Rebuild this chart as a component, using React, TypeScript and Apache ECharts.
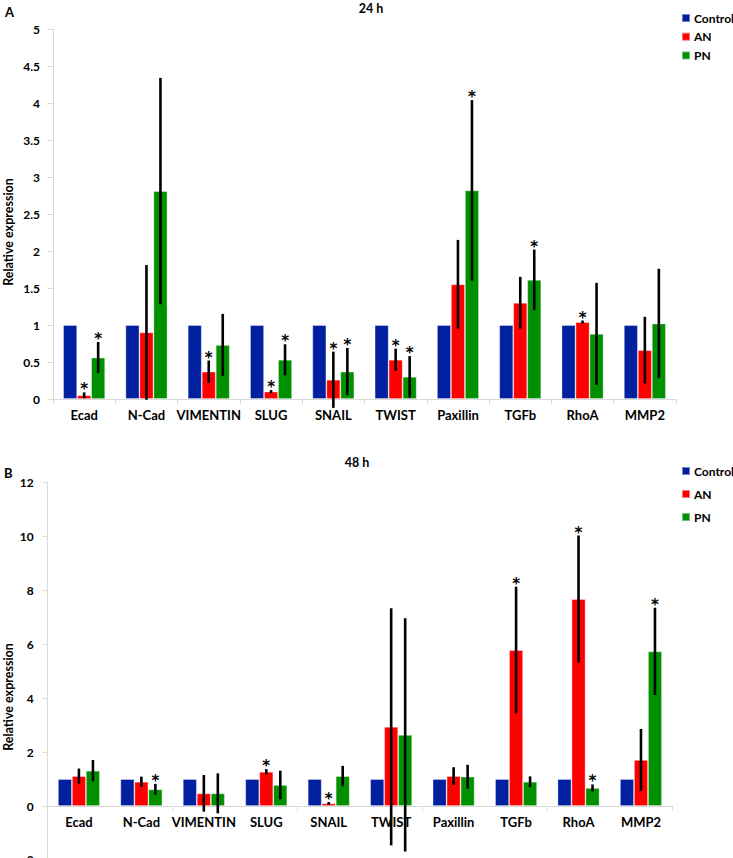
import React, { useEffect, useRef } from "react";
import * as echarts from "echarts";

const categories = ["Ecad", "N-Cad", "VIMENTIN", "SLUG", "SNAIL", "TWIST", "Paxillin", "TGFb", "RhoA", "MMP2"];
const seriesNames = ["Control", "AN", "PN"];
const colors = ["#0020a0", "#ff0000", "#009000"];

// 24 h
const control24 = [1, 1, 1, 1, 1, 1, 1, 1, 1, 1];
const an24 = [0.05, 0.9, 0.37, 0.1, 0.26, 0.53, 1.55, 1.3, 1.04, 0.66];
const anErr24 = [0.04, 0.91, 0.15, 0.02, 0.38, 0.15, 0.6, 0.35, 0.02, 0.45];
const anSig24 = [1, 0, 1, 1, 1, 1, 0, 0, 1, 0];
const pn24 = [0.56, 2.81, 0.73, 0.53, 0.37, 0.3, 2.82, 1.61, 0.88, 1.02];
const pnErr24 = [0.21, 1.53, 0.42, 0.21, 0.32, 0.28, 1.22, 0.41, 0.69, 0.74];
const pnSig24 = [1, 0, 0, 1, 1, 1, 1, 1, 0, 0];

// 48 h
const control48 = [1, 1, 1, 1, 1, 1, 1, 1, 1, 1];
const an48 = [1.11, 0.9, 0.47, 1.27, 0.1, 2.94, 1.11, 5.79, 7.68, 1.71];
const anErr48 = [0.28, 0.19, 0.68, 0.1, 0.05, 4.4, 0.33, 2.35, 2.36, 1.15];
const anSig48 = [0, 0, 0, 1, 1, 0, 0, 1, 1, 0];
const pn48 = [1.31, 0.62, 0.47, 0.78, 1.11, 2.64, 1.09, 0.9, 0.67, 5.74];
const pnErr48 = [0.4, 0.2, 0.74, 0.53, 0.38, 4.33, 0.44, 0.2, 0.13, 1.62];
const pnSig48 = [0, 1, 0, 0, 0, 0, 0, 0, 1, 1];

const BAR_W = 14;
const FONT = "Lato";
const AXIS_GREY = "#d9d9d9";

function barSeries(name: string, color: string, data: number[], axis: number) {
  return {
    type: "bar",
    name,
    data,
    xAxisIndex: axis,
    yAxisIndex: axis,
    barWidth: BAR_W,
    barGap: "0%",
    itemStyle: { color, borderColor: "rgba(255,255,255,0.45)", borderWidth: 0.8 },
    z: 2,
  };
}

function errSeries(vals: number[], errs: number[], sigs: number[], offsetIdx: number, axis: number) {
  return {
    type: "custom",
    xAxisIndex: axis,
    yAxisIndex: axis,
    clip: false,
    z: 5,
    silent: true,
    data: vals.map((v, i) => [i, v, errs[i], sigs[i]]),
    encode: { x: 0, y: 1 },
    renderItem: (params: any, api: any) => {
      const i = api.value(0);
      const v = api.value(1);
      const e = api.value(2);
      const s = api.value(3);
      const c = api.coord([i, v]);
      const x = c[0] + offsetIdx * BAR_W;
      const top = api.coord([i, v + e])[1];
      const bot = api.coord([i, v - e])[1];
      const children: any[] = [
        {
          type: "line",
          shape: { x1: x, y1: bot, x2: x, y2: top },
          style: { stroke: "#000", lineWidth: 2.6 },
        },
      ];
      if (s) {
        children.push({
          type: "text",
          x,
          y: top - 3,
          style: {
            text: "*",
            fill: "#000",
            fontSize: 15,
            fontWeight: "bold",
            fontFamily: "DejaVu Sans",
            align: "center",
            verticalAlign: "middle",
          },
        });
      }
      return { type: "group", children };
    },
  };
}

export default function App() {
  const ref = useRef<HTMLDivElement>(null);
  useEffect(() => {
    if (!ref.current) return;
    const chart = echarts.init(ref.current, null, { renderer: "svg" });
    const labelStyle = { color: "#000", fontFamily: FONT, fontWeight: "bold", fontSize: 12 };
    const xAxisCommon = {
      type: "category",
      data: categories,
      axisLine: { onZero: true, lineStyle: { color: AXIS_GREY, width: 1 } },
      axisTick: { show: true, length: 5, lineStyle: { color: AXIS_GREY } },
      axisLabel: { ...labelStyle, fontSize: 13, margin: 9, interval: 0 },
      splitLine: { show: false },
    };
    const yAxisCommon = {
      type: "value",
      axisLine: { show: true, lineStyle: { color: AXIS_GREY, width: 1 } },
      axisTick: { show: true, length: 5, lineStyle: { color: AXIS_GREY } },
      splitLine: { show: false },
    };
    const option: any = {
      animation: false,
      backgroundColor: "#fff",
      grid: [
        { left: 53, top: 29, width: 623, height: 370, outerBoundsMode: "none", containLabel: false },
        { left: 47.7, top: 482.7, width: 624.5, height: 377.2, outerBoundsMode: "none", containLabel: false },
        // overlay grid (0..12 part of panel B) that carries the category labels at the zero line
        { left: 47.7, top: 482.7, width: 624.5, height: 323.3, outerBoundsMode: "none", containLabel: false },
      ],
      xAxis: [
        { ...xAxisCommon, gridIndex: 0 },
        { ...xAxisCommon, gridIndex: 1, axisLabel: { show: false } },
        {
          ...xAxisCommon,
          gridIndex: 2,
          axisLine: { show: false },
          axisTick: { show: false },
        },
      ],
      yAxis: [
        { ...yAxisCommon, gridIndex: 0, min: 0, max: 5, interval: 0.5, axisLabel: { ...labelStyle, margin: 13 } },
        { ...yAxisCommon, gridIndex: 1, min: -2, max: 12, interval: 2, axisLabel: { ...labelStyle, margin: 14 } },
        { type: "value", gridIndex: 2, min: 0, max: 12, show: false },
      ],
      legend: [
        {
          orient: "vertical",
          left: 676,
          top: 6,
          itemWidth: 8,
          itemHeight: 8,
          itemGap: 4.7,
          icon: "rect",
          selectedMode: false,
          data: seriesNames,
          textStyle: { ...labelStyle, fontSize: 12, lineHeight: 14, padding: [0, 0, 0, -1] },
        },
        {
          orient: "vertical",
          left: 676,
          top: 459,
          itemWidth: 8,
          itemHeight: 8,
          itemGap: 9,
          icon: "rect",
          selectedMode: false,
          data: seriesNames,
          textStyle: { ...labelStyle, fontSize: 12, lineHeight: 14, padding: [0, 0, 0, -1] },
        },
      ],
      graphic: [
        { type: "text", x: 5, y: 12, style: { text: "A", fill: "#000", font: `bold 13px ${FONT}`, verticalAlign: "middle" } },
        { type: "text", x: 4, y: 473, style: { text: "B", fill: "#000", font: `bold 13px ${FONT}`, verticalAlign: "middle" } },
        { type: "text", x: 371, y: 8, style: { text: "24 h", fill: "#000", font: `bold 12.5px ${FONT}`, align: "center", verticalAlign: "middle" } },
        { type: "text", x: 357, y: 462, style: { text: "48 h", fill: "#000", font: `bold 12.5px ${FONT}`, align: "center", verticalAlign: "middle" } },
        {
          type: "text",
          x: 8,
          y: 232,
          rotation: Math.PI / 2,
          style: { text: "Relative expression", fill: "#000", font: `bold 12.5px ${FONT}`, align: "center", verticalAlign: "middle" },
        },
        {
          type: "text",
          x: 8,
          y: 697,
          rotation: Math.PI / 2,
          style: { text: "Relative expression", fill: "#000", font: `bold 12.5px ${FONT}`, align: "center", verticalAlign: "middle" },
        },
      ],
      series: [
        barSeries("Control", colors[0], control24, 0),
        barSeries("AN", colors[1], an24, 0),
        barSeries("PN", colors[2], pn24, 0),
        errSeries(an24, anErr24, anSig24, 0, 0),
        errSeries(pn24, pnErr24, pnSig24, 1, 0),
        barSeries("Control", colors[0], control48, 1),
        barSeries("AN", colors[1], an48, 1),
        barSeries("PN", colors[2], pn48, 1),
        errSeries(an48, anErr48, anSig48, 0, 1),
        errSeries(pn48, pnErr48, pnSig48, 1, 1),
      ],
    };
    chart.setOption(option);
    return () => chart.dispose();
  }, []);
  return (
    <div style={{ position: "fixed", left: 0, top: 0, width: 733, height: 858, overflow: "hidden", background: "#fff" }}>
      <div ref={ref} style={{ width: 733, height: 870 }} />
    </div>
  );
}
